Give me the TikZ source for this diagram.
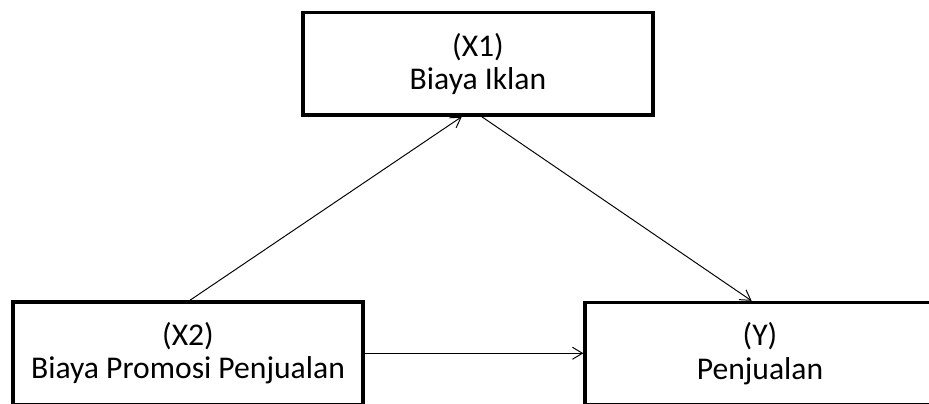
\documentclass[tikz,border=0pt]{standalone}
\usepackage{fontspec}
\setmainfont{Carlito}
\usetikzlibrary{arrows.meta}

\begin{document}
\begin{tikzpicture}[x=0.02cm,y=0.02cm,
        var box/.style={draw, line width=1.9pt, minimum width=7cm, minimum height=2.05cm,
                        align=center, inner sep=0pt, font=\fontsize{18}{19}\selectfont,
                        execute at begin node={\rule{0pt}{21.5pt}}},
        link/.style={line width=0.55pt, -{Straight Barb[length=0.2cm,width=0.24cm]}}]
  \useasboundingbox (0,0) rectangle (929,403);
  \clip (0,0) rectangle (929,403);

  % variabel
  \node[var box] (iklan)     at (478,339.25) {(X1)\\Biaya Iklan};
  \node[var box] (promosi)   at (188,49.75)  {(X2)\\Biaya Promosi Penjualan};
  \node[var box] (penjualan) at (760,49.25)  {(Y)\\Penjualan};

  % hubungan antar variabel
  \draw[link] (promosi.88)   -- (iklan.-107);
  \draw[link] (iklan.-86)    -- (penjualan.99);
  \draw[link] (promosi.-0.6) -- (penjualan.west |- promosi.-0.6);
\end{tikzpicture}
\end{document}
